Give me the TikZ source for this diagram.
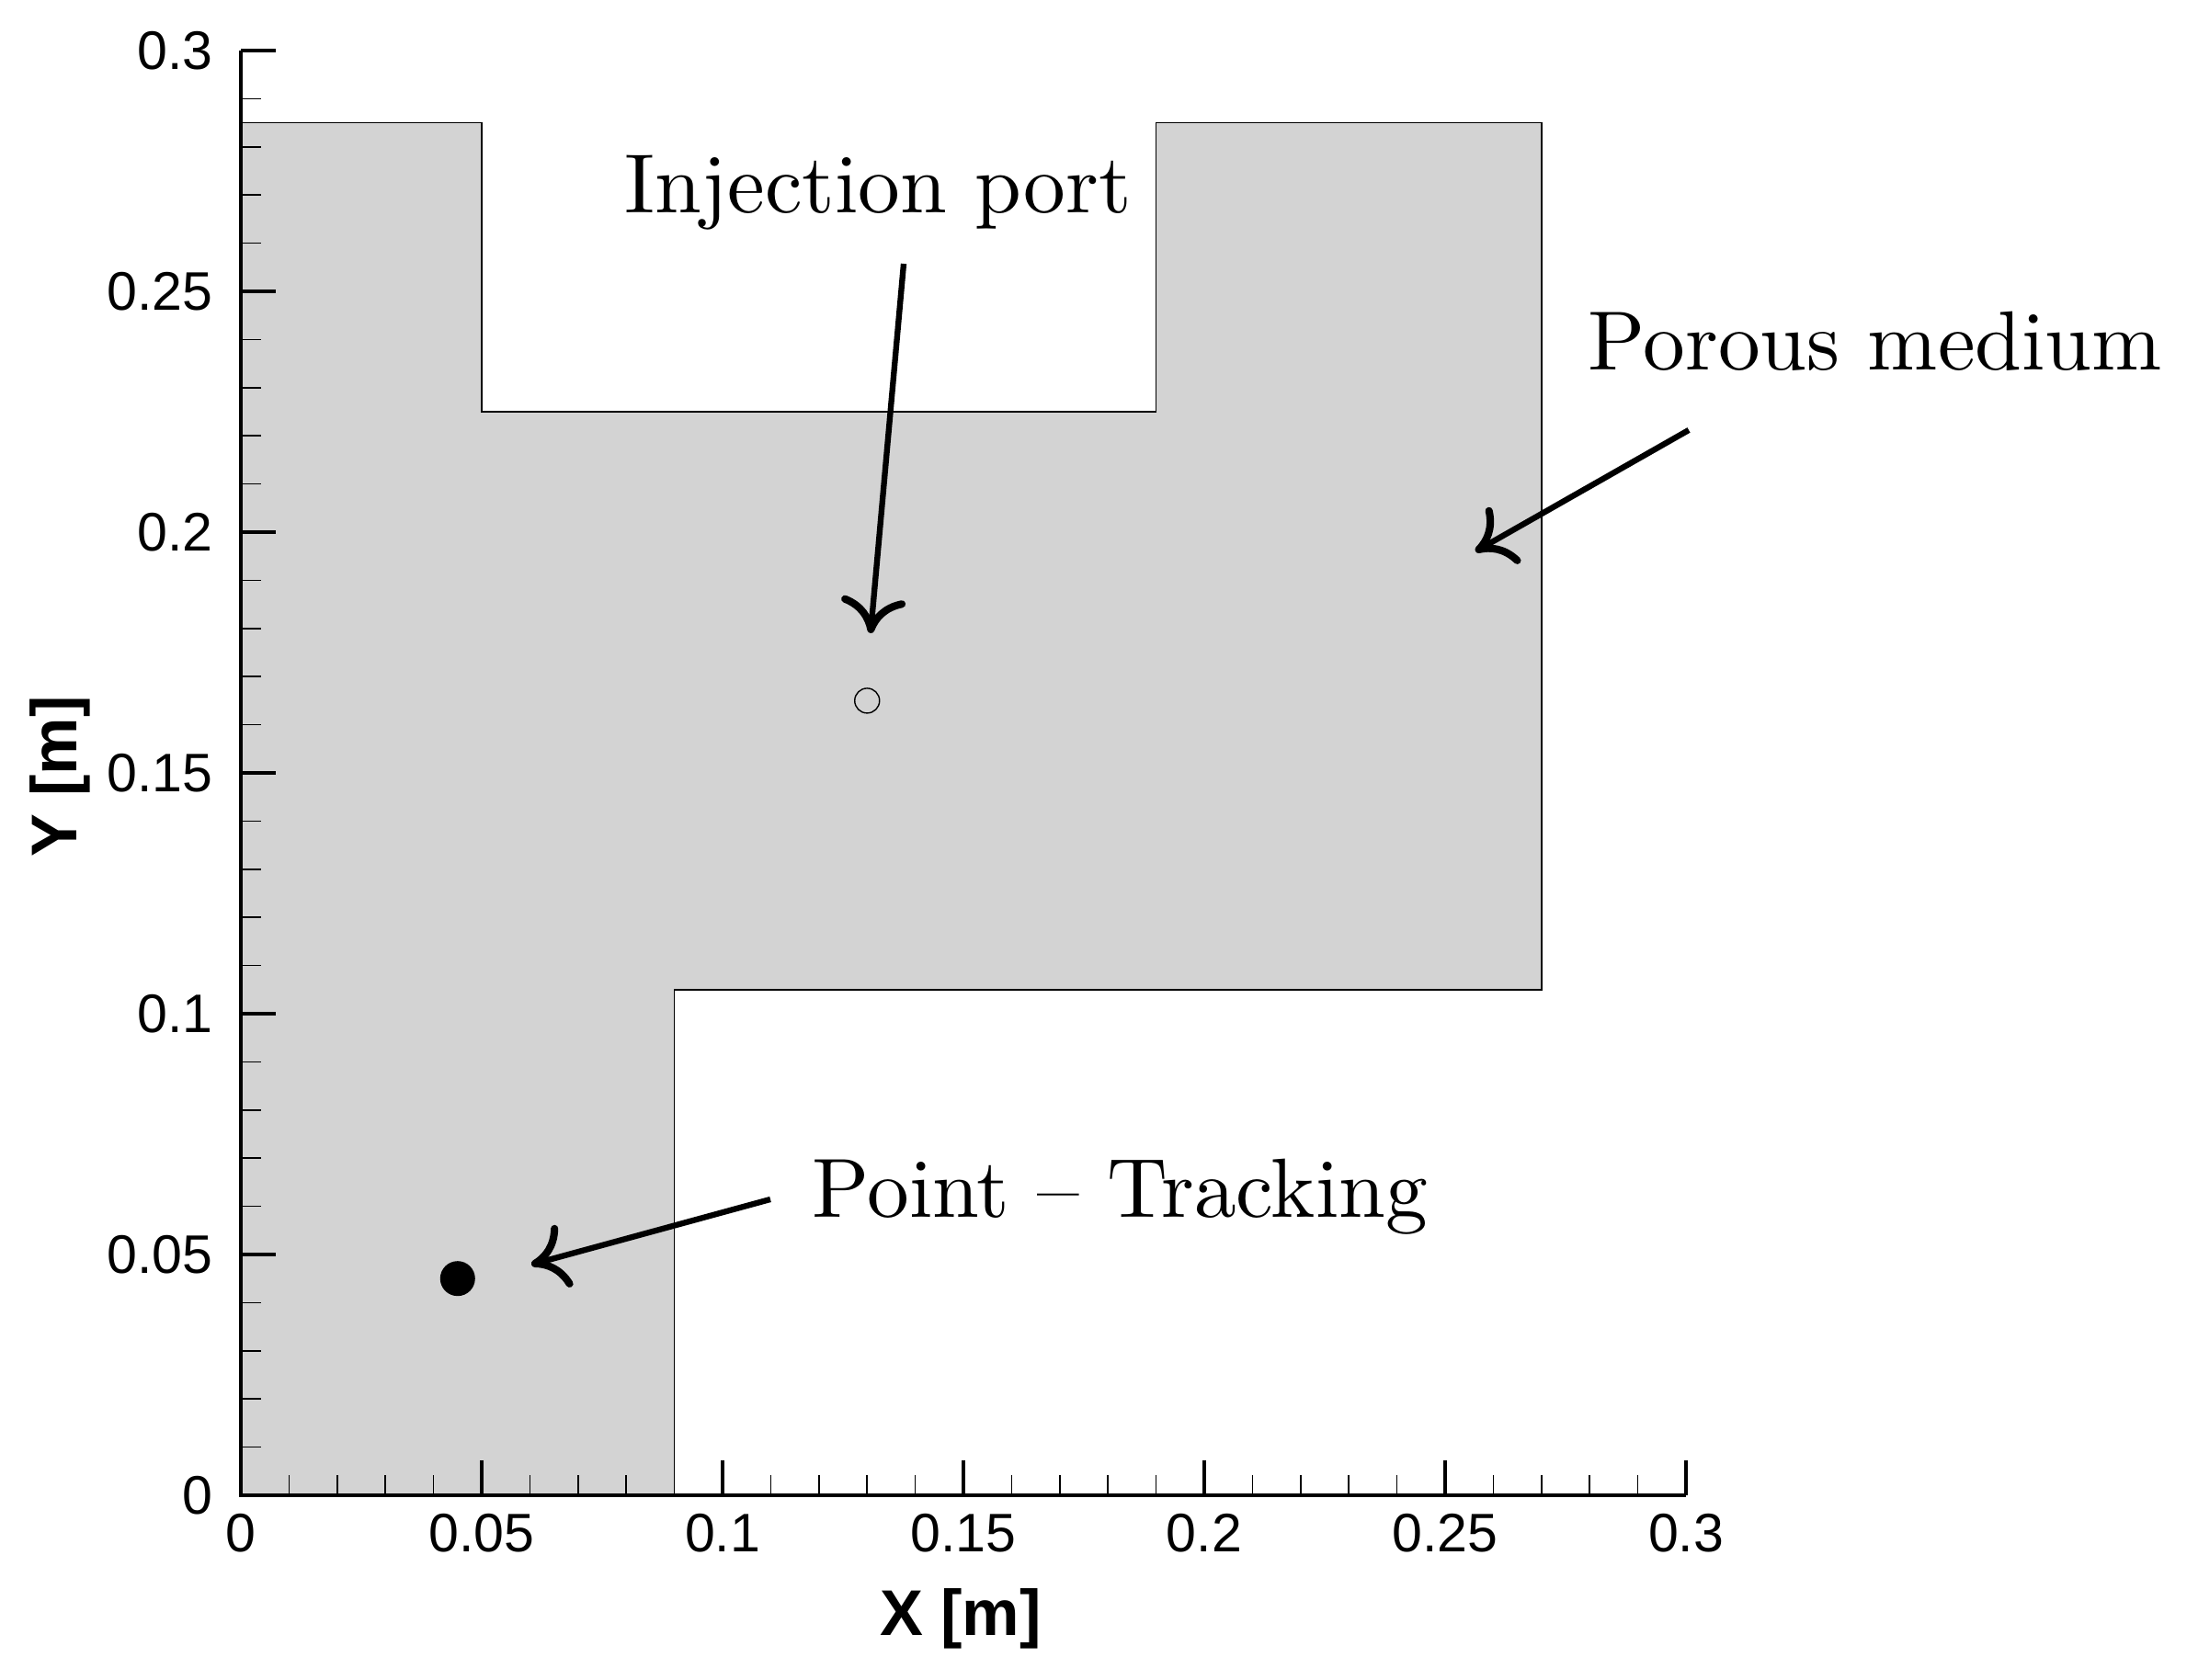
\documentclass[tikz,border=0pt]{standalone}
\usepackage{fontspec}
\newfontfamily\arialfont{Liberation Sans}
\usetikzlibrary{arrows.meta}
\definecolor{porousgray}{HTML}{D3D3D3}
\tikzset{
  ticklab/.style={font=\arialfont\fontsize{16.8}{18}\selectfont, inner sep=0pt},
  axtitle/.style={font=\arialfont\bfseries\fontsize{20}{24}\selectfont, inner sep=0pt, anchor=base},
  annot/.style={font=\fontsize{10}{12}\selectfont, inner sep=0pt, anchor=base west, scale=2.6, transform shape},
  pointer/.style={line width=1.8pt, -{Computer Modern Rightarrow[length=11pt,width=20pt,line width=2.3pt]}},
  majortick/.style={line width=1.1pt},
  minortick/.style={line width=0.45pt},
  axisline/.style={line width=1.15pt},
}
\begin{document}
\begin{tikzpicture}
\useasboundingbox (0,0) rectangle (23.79,18.28);
\begin{scope}[shift={(2.62,2.01)}, x=52.4cm, y=52.4cm]
  % porous medium domain
  \path[fill=porousgray, draw=black, line width=0.45pt]
    (0,0) -- (0.09,0) -- (0.09,0.105) -- (0.27,0.105) -- (0.27,0.285)
    -- (0.19,0.285) -- (0.19,0.225) -- (0.05,0.225) -- (0.05,0.285)
    -- (0,0.285) -- cycle;
  % axes
  \draw[axisline] (0,0.3) -- (0,0) -- (0.3,0);
  % minor ticks
  \foreach \k in {0,...,5}{
    \foreach \m in {1,...,4}{
      \draw[minortick] ({\k*0.05+\m*0.01},0) -- ++(0,0.22cm);
      \draw[minortick] (0,{\k*0.05+\m*0.01}) -- ++(0.22cm,0);
    }
  }
  % major ticks
  \foreach \v in {0.05,0.1,0.15,0.2,0.25,0.3}{
    \draw[majortick] (\v,0) -- ++(0,0.38cm);
    \draw[majortick] (0,\v) -- ++(0.38cm,0);
  }
  % tick labels
  \foreach \v [count=\i] in {0,0.05,0.1,0.15,0.2,0.25,0.3}{
    \node[ticklab, anchor=north, yshift=-0.2cm] (xt\i) at (\v,0) {\v};
    \node[ticklab, anchor=east, xshift=-0.3cm] (yt\i) at (0,\v) {\v};
  }
  % markers
  \node[circle, fill=black, minimum size=0.38cm, inner sep=0pt] (track) at (0.045,0.045) {};
  \node[circle, draw=black, line width=0.4pt, minimum size=0.27cm, inner sep=0pt] (port) at (0.13,0.165) {};
\end{scope}
% axis titles
\node[axtitle] (xtitle) at (10.45,0.48) {X [m]};
\node[axtitle, rotate=90] (ytitle) at (0.83,9.83) {Y [m]};
% annotations
\node[annot] (injlab) at (6.78,15.96) {Injection port};
\node[annot] (porlab) at (17.26,14.25) {Porous medium};
\node[annot] (ptlab) at (8.82,5.03) {Point -- Tracking};
% arrows
\coordinate (injS) at (9.83,15.41);
\coordinate (injT) at (9.47,11.39);
\coordinate (porS) at (18.37,13.60);
\coordinate (porT) at (16.05,12.28);
\coordinate (ptS) at (8.38,5.23);
\coordinate (ptT) at (5.78,4.52);
\draw[pointer] (injS) -- (injT);
\draw[pointer] (porS) -- (porT);
\draw[pointer] (ptS) -- (ptT);
\end{tikzpicture}
\end{document}
